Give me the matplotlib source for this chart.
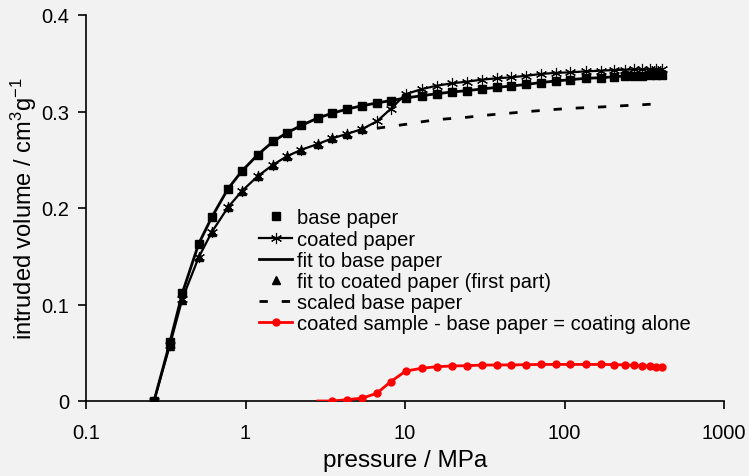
import matplotlib
matplotlib.use("Agg")
import matplotlib.pyplot as plt

plt.rcParams['font.family'] = ['Liberation Sans', 'DejaVu Sans']
plt.rcParams['mathtext.fontset'] = 'custom'
plt.rcParams['mathtext.rm'] = 'Liberation Sans'
plt.rcParams['mathtext.it'] = 'Liberation Sans'
plt.rcParams['axes.unicode_minus'] = False

# pressure (MPa)
pressure = [0.267, 0.336, 0.402, 0.509, 0.617, 0.777, 0.946, 1.19, 1.49, 1.82,
            2.24, 2.84, 3.50, 4.31, 5.40, 6.66, 8.13, 10.1, 12.8, 15.8,
            19.6, 24.4, 30.3, 37.6, 46.2, 57.4, 71.0, 88.0, 109, 136,
            170, 205, 240, 273, 308, 342, 376, 410]

base_paper = [0.0, 0.061, 0.112, 0.163, 0.191, 0.220, 0.238, 0.255, 0.269, 0.278,
              0.2855, 0.2933, 0.2982, 0.3024, 0.306, 0.3088, 0.3113, 0.314, 0.3164, 0.3184,
              0.3202, 0.3216, 0.3233, 0.325, 0.3264, 0.328, 0.330, 0.3316, 0.333, 0.3344,
              0.335, 0.336, 0.3368, 0.337, 0.3373, 0.3375, 0.3375, 0.3375]

coated_paper = [0.0, 0.058, 0.106, 0.149, 0.1755, 0.2007, 0.2173, 0.2328, 0.2449, 0.2536,
                0.2604, 0.2663, 0.2722, 0.2767, 0.2819, 0.2898, 0.3026, 0.318, 0.3233, 0.3267,
                0.3292, 0.3309, 0.333, 0.3344, 0.3354, 0.337, 0.3389, 0.340, 0.3406, 0.3416,
                0.3423, 0.343, 0.3433, 0.3436, 0.3437, 0.3437, 0.3437, 0.3437]

fit_base = base_paper

fit_coated_p = [0.267, 0.336, 0.402, 0.509, 0.617, 0.777, 0.946, 1.19, 1.49, 1.82,
                2.24, 2.84, 3.50, 4.31, 5.40]
fit_coated_v = [0.0, 0.057, 0.105, 0.149, 0.1755, 0.2007, 0.2173, 0.2328, 0.2449, 0.2536,
                0.2604, 0.2663, 0.2722, 0.2767, 0.2819]

scaled_p = [6.66, 8.13, 10.1, 12.8, 15.8, 19.6, 24.4, 30.3, 37.6, 46.2, 57.4, 71.0,
            88.0, 109, 136, 170, 205, 240, 273, 308, 342, 376, 410]
scaled_v = [0.2826, 0.2846, 0.2867, 0.2894, 0.2915, 0.2928, 0.2940, 0.2957, 0.2972, 0.2984,
            0.2998, 0.3010, 0.3022, 0.3033, 0.3040, 0.3047, 0.3055, 0.3061, 0.3066, 0.3070,
            0.3075, 0.3080, 0.3085]

coating_p = [2.84, 3.50, 4.31, 5.40, 6.66, 8.13, 10.1, 12.8, 15.8, 19.6, 24.4, 30.3,
             37.6, 46.2, 57.4, 71.0, 88.0, 109, 136, 170, 205, 240, 273, 308, 342, 376, 410]
coating_v = [0.0, 0.0, 0.0013, 0.003, 0.008, 0.020, 0.031, 0.034, 0.0355, 0.0363, 0.0366, 0.0372,
             0.0373, 0.0374, 0.0376, 0.0379, 0.0379, 0.0379, 0.0379, 0.0379, 0.0377, 0.0374, 0.0369,
             0.0365, 0.0361, 0.0357, 0.0352]

bg = '#f2f2f2'
fig = plt.figure(figsize=(7.49, 4.77), dpi=100, facecolor=bg)
ax = fig.add_axes([86/749, 75/477, (724-86)/749, (402-16)/477])
ax.set_facecolor(bg)

ax.plot(pressure, base_paper, linestyle='none', marker='s', color='black',
        markersize=6, label='base paper', zorder=4)
ax.plot(pressure, coated_paper, linestyle='-', color='black', lw=1.6, marker=(6, 2, 0),
        markersize=8, markeredgewidth=0.8, label='coated paper', zorder=3)
ax.plot(pressure, fit_base, linestyle='-', color='black', lw=2.0,
        label='fit to base paper', zorder=3)
ax.plot(fit_coated_p, fit_coated_v, linestyle='none', marker='^', color='black',
        markersize=6, label='fit to coated paper (first part)', zorder=4)
ax.plot(scaled_p, scaled_v, linestyle=(0, (3, 5)), color='black', lw=2.0,
        label='scaled base paper', zorder=3)
ax.plot(coating_p, coating_v, linestyle='-', color='red', lw=2.0, marker='o',
        markersize=5, markevery=slice(1, None),
        label='coated sample - base paper = coating alone', zorder=3)

ax.set_xscale('log')
ax.set_xlim(0.1, 1000)
ax.set_ylim(0, 0.4)
ax.set_xticks([0.1, 1, 10, 100, 1000])
ax.set_xticklabels(['0.1', '1', '10', '100', '1000'])
ax.minorticks_off()
ax.set_yticks([0, 0.1, 0.2, 0.3, 0.4])
ax.set_yticklabels(['0', '0.1', '0.2', '0.3', '0.4'])
ax.tick_params(axis='both', direction='out', length=6, width=1.2, labelsize=14.5, pad=6)
ax.tick_params(axis='x', pad=10)
for s in ['top', 'right']:
    ax.spines[s].set_visible(False)
for s in ['left', 'bottom']:
    ax.spines[s].set_linewidth(1.2)

ax.set_xlabel('pressure / MPa', fontsize=17.5, labelpad=5)
ax.set_ylabel('intruded volume / cm$^{\\mathregular{3}}$g$^{\\mathregular{-1}}$',
              fontsize=17, labelpad=2)

leg = ax.legend(loc='upper left', bbox_to_anchor=(0.256, 0.525), frameon=False,
                fontsize=14.5, handlelength=1.6, handletextpad=0.25, labelspacing=0.11,
                borderpad=0)

fig.savefig('out.png', dpi=100, facecolor=bg)
